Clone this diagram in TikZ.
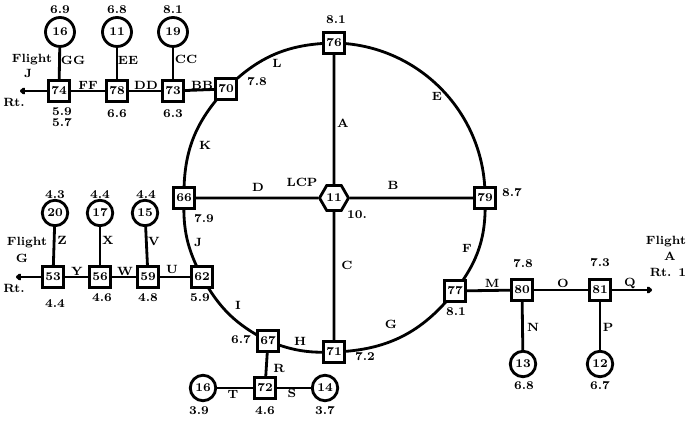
\documentclass[tikz,border=0pt]{standalone}
\usetikzlibrary{shapes.geometric,arrows.meta,backgrounds}
\begin{document}
\begin{tikzpicture}[x=0.02cm,y=0.02cm,
  every node/.style={font=\fontsize{6.8}{7}\selectfont\bfseries, inner sep=0pt},
  sq/.style={draw, line width=1.8pt, minimum size=12pt, inner sep=1pt, fill=white},
  rn/.style={draw, circle, line width=1.6pt, minimum size=14.5pt, fill=white},
  rnb/.style={rn, minimum size=16.5pt},
  hx/.style={draw, regular polygon, regular polygon sides=6, line width=1.6pt, minimum size=16.5pt, fill=white},
  ln/.style={line width=1.6pt},
  arr/.style={ln, -{To[length=3pt,width=4pt]}}]
\useasboundingbox (0,0) rectangle (688,425);

% ring nodes
\node[sq] (n76) at (334,382) {76};
\node[sq] (n70) at (226,336) {70};
\node[sq] (n66) at (184,227) {66};
\node[sq] (n62) at (202,148) {62};
\node[sq] (n67) at (268,84) {67};
\node[sq] (n71) at (334,73) {71};
\node[sq] (n77) at (455,134) {77};
\node[sq] (n79) at (485,227) {79};
\node[hx] (n11) at (334,227) {11};

% top-left branch
\node[sq] (n73) at (173,334) {73};
\node[sq] (n78) at (117,334) {78};
\node[sq] (n74) at (59,334) {74};
\node[rnb] (c16a) at (60,393) {16};
\node[rnb] (c11) at (117,393) {11};
\node[rnb] (c19) at (173,393) {19};
\coordinate (aJ) at (20,334);

% left-middle branch
\node[sq] (n59) at (148,148) {59};
\node[sq] (n56) at (100,148) {56};
\node[sq] (n53) at (53,148) {53};
\node[rn] (c20) at (55,212) {20};
\node[rn] (c17) at (100,212) {17};
\node[rn] (c15) at (145,212) {15};
\coordinate (aG) at (16,148);

% bottom branch
\node[sq] (n72) at (265,37) {72};
\node[rn] (c16b) at (203,37) {16};
\node[rn] (c14) at (325,37) {14};

% right branch
\node[sq] (n80) at (522,135) {80};
\node[sq] (n81) at (600,135) {81};
\node[rn] (c13) at (523,61) {13};
\node[rn] (c12) at (600,61) {12};
\coordinate (aA) at (652,135);

\begin{scope}[on background layer]
% ring arcs
\draw[ln] (n76.center) to[bend right=22] (n70.center);
\draw[ln] (n70.center) to[bend right=22] (n66.center);
\draw[ln] (n66.center) to[bend right=15] (n62.center);
\draw[ln] (n62.center) to[bend right=17] (n67.center);
\draw[ln] (n67.center) to[bend right=12] (n71.center);
\draw[ln] (n71.center) to[bend right=25] (n77.center);
\draw[ln] (n77.center) to[bend right=20] (n79.center);
\draw[ln] (n79.center) to[bend right=45] (n76.center);
\end{scope}

% spokes
\draw[ln] (n76) -- (n11);
\draw[ln] (n11) -- (n71);
\draw[ln] (n66) -- (n11);
\draw[ln] (n11) -- (n79);

% branch links
\draw[ln] (c16a) -- (n74);
\draw[ln] (c11) -- (n78);
\draw[ln] (c19) -- (n73);
\draw[ln] (n74) -- (n78);
\draw[ln] (n78) -- (n73);
\draw[ln] (n73) -- (n70);
\draw[arr] (n74) -- (aJ);

\draw[ln] (c20) -- (n53);
\draw[ln] (c17) -- (n56);
\draw[ln] (c15) -- (n59);
\draw[ln] (n53) -- (n56);
\draw[ln] (n56) -- (n59);
\draw[ln] (n59) -- (n62);
\draw[arr] (n53) -- (aG);

\draw[ln] (n67) -- (n72);
\draw[ln] (c16b) -- (n72);
\draw[ln] (n72) -- (c14);

\draw[ln] (n77) -- (n80);
\draw[ln] (n80) -- (n81);
\draw[arr] (n81) -- (aA);
\draw[ln] (n80) -- (c13);
\draw[ln] (n81) -- (c12);

% value labels
\node (v16a) at (60,415) {6.9};
\node (v11) at (117,415) {6.8};
\node (v19) at (173,415) {8.1};
\node (v74a) at (62,313) {5.9};
\node (v74b) at (62,302) {5.7};
\node (v78) at (117,311) {6.6};
\node (v73) at (173,311) {6.3};
\node (v70) at (257,343) {7.8};
\node (v76) at (336,405) {8.1};
\node (v66) at (204,206) {7.9};
\node (v79) at (512,232) {8.7};
\node (v11h) at (357,210) {10.};
\node (vLCP) at (302,243) {LCP};
\node (v20) at (55,230) {4.3};
\node (v17) at (100,230) {4.4};
\node (v15) at (146,230) {4.4};
\node (v53) at (55,121) {4.4};
\node (v56) at (102,127) {4.6};
\node (v59) at (148,127) {4.8};
\node (v62) at (200,127) {5.9};
\node (v67) at (241,85) {6.7};
\node (v71) at (365,68) {7.2};
\node (v16b) at (199,14) {3.9};
\node (v72) at (265,14) {4.6};
\node (v14) at (325,14) {3.7};
\node (v77) at (456,113) {8.1};
\node (v80) at (523,161) {7.8};
\node (v81) at (600,162) {7.3};
\node (v13) at (524,39) {6.8};
\node (v12) at (600,39) {6.7};

% edge labels
\node (eGG) at (73,365) {GG};
\node (eEE) at (128,365) {EE};
\node (eCC) at (186,366) {CC};
\node (eFF) at (88,340) {FF};
\node (eDD) at (146,340) {DD};
\node (eBB) at (202,340) {BB};
\node (eL) at (277,362) {L};
\node (eE) at (437,329) {E};
\node (eK) at (205,280) {K};
\node (eA) at (343,302) {A};
\node (eD) at (258,238) {D};
\node (eB) at (393,240) {B};
\node (eC) at (347,160) {C};
\node (eJ) at (198,183) {J};
\node (eF) at (467,177) {F};
\node (eI) at (238,120) {I};
\node (eH) at (300,84) {H};
\node (eG) at (391,101) {G};
\node (eZ) at (62,185) {Z};
\node (eX) at (108,185) {X};
\node (eV) at (154,184) {V};
\node (eY) at (77,154) {Y};
\node (eW) at (125,154) {W};
\node (eU) at (172,156) {U};
\node (eR) at (279,57) {R};
\node (eT) at (233,31) {T};
\node (eS) at (292,32) {S};
\node (eM) at (492,142) {M};
\node (eO) at (563,142) {O};
\node (eQ) at (630,142) {Q};
\node (eN) at (533,98) {N};
\node (eP) at (608,98) {P};

% flight labels
\node (fJ1) at (32,365) {Flight};
\node (fJ2) at (28,352) {J};
\node (fJ3) at (14,323) {Rt.};
\node (fG1) at (27,182) {Flight};
\node (fG2) at (22,167) {G};
\node (fG3) at (14,137) {Rt.};
\node (fA1) at (666,183) {Flight};
\node (fA2) at (670,169) {A};
\node (fA3) at (668,153) {Rt. 1};
\end{tikzpicture}
\end{document}
